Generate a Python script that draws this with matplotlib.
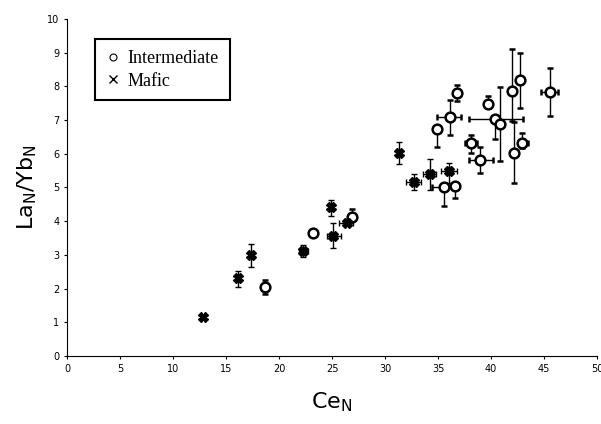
import numpy as np
import matplotlib
matplotlib.use("Agg")
import matplotlib.pyplot as plt
from matplotlib.lines import Line2D

plt.rcParams['mathtext.default'] = 'regular'

# Intermediate samples (open circles)
int_ce = [18.7, 23.2, 26.9, 34.9, 36.1, 36.8, 35.6, 36.6, 38.1, 39.0,
          39.7, 40.4, 40.8, 42.0, 42.7, 42.2, 42.9, 45.6]
int_la_yb = [2.06, 3.66, 4.13, 6.73, 7.08, 7.8, 5.02, 5.04, 6.31, 5.82,
             7.47, 7.02, 6.88, 7.87, 8.19, 6.03, 6.31, 7.84]
int_yerr_lo = [0.22, 0.08, 0.1, 0.54, 0.52, 0.25, 0.57, 0.36, 0.3, 0.4,
               0.1, 0.58, 1.11, 0.9, 0.84, 0.9, 0.15, 0.72]
int_yerr_hi = [0.2, 0.1, 0.22, 0.1, 0.5, 0.25, 0.1, 0.1, 0.25, 0.37,
               0.25, 0.1, 1.09, 1.23, 0.81, 0.9, 0.32, 0.69]
int_xerr_lo = [0.3, 0.2, 0.2, 0.3, 1.2, 0.2, 1.2, 0.3, 0.6, 1.1,
               0.3, 2.5, 0.3, 0.3, 0.3, 0.3, 0.4, 0.9]
int_xerr_hi = [0.3, 0.2, 0.2, 0.3, 1.1, 0.2, 0.3, 0.3, 0.6, 1.2,
               0.3, 2.6, 0.3, 0.3, 0.3, 0.3, 0.6, 0.7]

# Mafic samples (crosses)
maf_ce = [12.8, 16.1, 17.4, 22.3, 24.9, 25.1, 26.4, 31.3, 32.7, 34.2, 36.0]
maf_la_yb = [1.17, 2.3, 3.0, 3.12, 4.41, 3.56, 3.95, 6.03, 5.16, 5.39, 5.49]
maf_yerr_lo = [0.05, 0.24, 0.37, 0.19, 0.26, 0.36, 0.08, 0.33, 0.23, 0.46, 0.37]
maf_yerr_hi = [0.05, 0.23, 0.32, 0.17, 0.22, 0.38, 0.08, 0.33, 0.23, 0.46, 0.25]
maf_xerr_lo = [0.2, 0.2, 0.2, 0.4, 0.2, 0.6, 0.7, 0.2, 0.7, 0.6, 0.7]
maf_xerr_hi = [0.2, 0.2, 0.2, 0.4, 0.2, 0.7, 0.6, 0.2, 0.7, 0.6, 0.8]

fig = plt.figure(figsize=(6.01, 4.24), dpi=100)
ax = fig.add_axes([0.1115, 0.1604, 0.882, 0.795])

ax.errorbar(int_ce, int_la_yb,
            yerr=[int_yerr_lo, int_yerr_hi], xerr=[int_xerr_lo, int_xerr_hi],
            fmt='o', mfc='white', mec='black', mew=1.8, ms=7,
            ecolor='black', elinewidth=1, capsize=2, capthick=1,
            zorder=3)
ax.errorbar(maf_ce, maf_la_yb,
            yerr=[maf_yerr_lo, maf_yerr_hi], xerr=[maf_xerr_lo, maf_xerr_hi],
            fmt='X', mfc='black', mec='black', ms=7,
            ecolor='black', elinewidth=1, capsize=2, capthick=1,
            zorder=3)

ax.set_xlim(0, 50)
ax.set_ylim(0, 10)
ax.set_xticks(np.arange(0, 51, 5))
ax.set_yticks(np.arange(0, 11, 1))
ax.tick_params(labelsize=7, length=2, width=0.8)
for s in ['top', 'right']:
    ax.spines[s].set_visible(False)

ax.set_xlabel('Ce$_N$', fontsize=16, labelpad=12)
ax.set_ylabel('La$_N$/Yb$_N$', fontsize=16, labelpad=6)

# legend with small markers, no error bars shown
handles = [Line2D([], [], ls='none', marker='o', mfc='white', mec='black', mew=0.8, ms=5),
           Line2D([], [], ls='none', marker='x', color='black', mew=1, ms=6)]
leg = ax.legend(handles, ['Intermediate', 'Mafic'], loc='upper left',
                bbox_to_anchor=(0.036, 0.966), fancybox=False, framealpha=1,
                edgecolor='black', prop={'family': 'Liberation Serif', 'size': 13},
                handlelength=0.8, handletextpad=0.4, borderpad=0.6, labelspacing=0.3)
leg.get_frame().set_linewidth(1.5)

fig.savefig('out.png', dpi=100)
